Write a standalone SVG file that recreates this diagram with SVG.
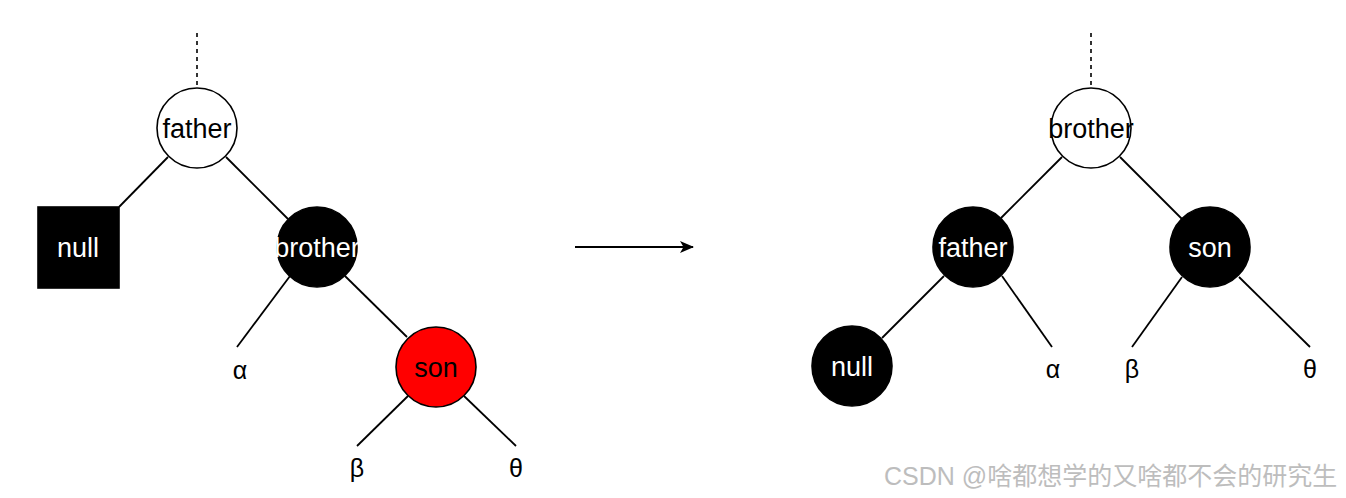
<svg xmlns="http://www.w3.org/2000/svg" width="1346" height="498" viewBox="0 0 1346 498">
<defs>
<marker id="arr" viewBox="0 0 14 12" refX="13" refY="6" markerWidth="14" markerHeight="12" markerUnits="userSpaceOnUse" orient="auto">
<path d="M0,0 L14,6 L0,12 L3.5,6 Z" fill="#000"/>
</marker>
<style>
.edge{stroke:#000;stroke-width:1.8;fill:none}
.dash{stroke:#000;stroke-width:1.6;stroke-dasharray:4 4;fill:none}
.wn{fill:#fff;stroke:#000;stroke-width:1.6}
.bn{fill:#000;stroke:#000;stroke-width:1.6}
.rn{fill:#ff0000;stroke:#000;stroke-width:1.6}
.t{font-family:"Liberation Sans",Arial,sans-serif;font-size:27px;text-anchor:middle}
.tw{fill:#fff}
.tb{fill:#000}
.g{font-family:"Liberation Sans","DejaVu Sans",sans-serif;font-size:25px;text-anchor:middle;fill:#000}
.wm{font-family:"Liberation Sans","Noto Sans CJK SC",sans-serif;font-size:25px;fill:#bdbdbd}
</style>
</defs>
<rect width="1346" height="498" fill="#fff"/>
<g id="connectors">
<line class="dash" x1="197" y1="33" x2="197" y2="88"/>
<line class="edge" x1="168" y1="157" x2="119" y2="207"/>
<line class="edge" x1="226" y1="157" x2="288" y2="219"/>
<line class="edge" x1="290" y1="276" x2="237" y2="347"/>
<line class="edge" x1="345" y1="276" x2="407" y2="337"/>
<line class="edge" x1="408" y1="396" x2="357" y2="446"/>
<line class="edge" x1="464" y1="396" x2="516" y2="446"/>
<line class="edge" x1="575" y1="247" x2="693" y2="247" marker-end="url(#arr)"/>
<line class="dash" x1="1091" y1="33" x2="1091" y2="88"/>
<line class="edge" x1="1062" y1="157" x2="1001" y2="218"/>
<line class="edge" x1="1120" y1="157" x2="1182" y2="219"/>
<line class="edge" x1="944" y1="276" x2="882" y2="338"/>
<line class="edge" x1="1002" y1="276" x2="1052" y2="347"/>
<line class="edge" x1="1182" y1="277" x2="1132" y2="347"/>
<line class="edge" x1="1239" y1="277" x2="1310" y2="347"/>
</g>
<g id="father-left"><circle class="wn" cx="197" cy="128" r="40"/><text class="t tb" x="197" y="138">father</text></g>
<g id="null-left"><rect class="bn" x="38" y="207" width="81" height="81"/><text class="t tw" x="78" y="257">null</text></g>
<g id="brother-left"><circle class="bn" cx="317" cy="247" r="40"/><text class="t tw" x="317" y="257">brother</text></g>
<g id="alpha-left"><text class="g" x="240" y="379">α</text></g>
<g id="son-left"><circle class="rn" cx="436" cy="367" r="40"/><text class="t tb" x="436" y="377">son</text></g>
<g id="beta-left"><text class="g" x="357" y="477">β</text></g>
<g id="theta-left"><text class="g" x="516" y="477">θ</text></g>
<g id="brother-right"><circle class="wn" cx="1091" cy="128" r="40"/><text class="t tb" x="1091" y="138">brother</text></g>
<g id="father-right"><circle class="bn" cx="973" cy="247" r="40"/><text class="t tw" x="973" y="257">father</text></g>
<g id="son-right"><circle class="bn" cx="1210" cy="247" r="40"/><text class="t tw" x="1210" y="257">son</text></g>
<g id="null-right"><circle class="bn" cx="852" cy="366" r="40"/><text class="t tw" x="852" y="376">null</text></g>
<g id="alpha-right"><text class="g" x="1053" y="378">α</text></g>
<g id="beta-right"><text class="g" x="1132" y="378">β</text></g>
<g id="theta-right"><text class="g" x="1310" y="378">θ</text></g>
<g id="watermark"><text class="wm" x="884" y="485">CSDN @啥都想学的又啥都不会的研究生</text></g>
</svg>
